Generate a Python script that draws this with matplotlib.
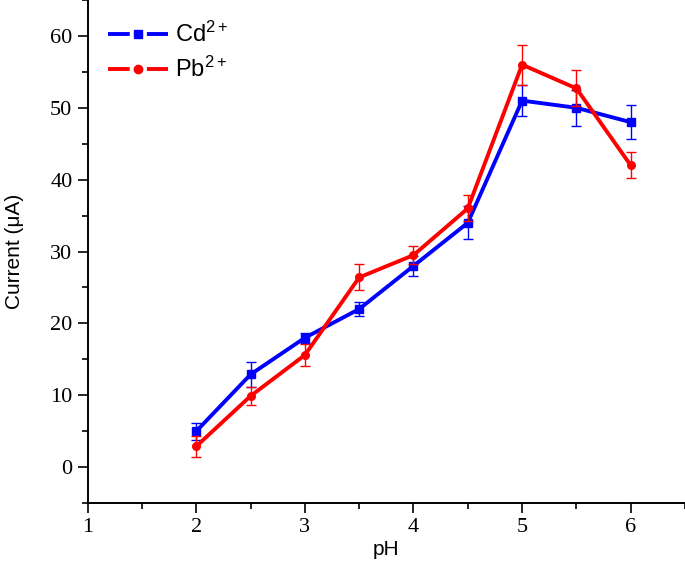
import matplotlib
matplotlib.use("Agg")
import matplotlib.pyplot as plt
from matplotlib.lines import Line2D
from matplotlib.ticker import MultipleLocator

plt.rcParams['mathtext.fontset'] = 'custom'
plt.rcParams['mathtext.rm'] = 'Liberation Sans'
plt.rcParams['mathtext.it'] = 'Liberation Sans:italic'

ph = [2, 2.5, 3, 3.5, 4, 4.5, 5, 5.5, 6]
cd = [5.0, 12.9, 18.0, 22.0, 28.0, 34.0, 51.0, 50.0, 48.0]
cd_err = [1.2, 1.7, 0.7, 1.0, 1.4, 2.3, 2.2, 2.5, 2.4]
pb = [2.9, 9.9, 15.6, 26.4, 29.5, 36.0, 56.0, 52.7, 42.0]
pb_err = [1.5, 1.2, 1.5, 1.8, 1.3, 1.8, 2.8, 2.5, 1.8]
series_labels = ['Cd$^{2+}$', 'Pb$^{2+}$']
x_label = 'pH'
y_label = 'Current (\u03bcA)'

fig = plt.figure(figsize=(6.85, 5.64), dpi=100)
ax = fig.add_axes([0.128, 0.108, 0.872, 0.892])

ax.errorbar(ph, cd, yerr=cd_err, color='#0000FF', lw=2.8, marker='s', ms=5.5,
            elinewidth=1.0, capsize=3.8, capthick=1.0, zorder=3)
ax.errorbar(ph, pb, yerr=pb_err, color='#FF0000', lw=2.8, marker='o', ms=5.5,
            elinewidth=1.0, capsize=3.8, capthick=1.0, zorder=4)

ax.set_xlim(1, 6.5)
ax.set_ylim(-5, 65)
ax.xaxis.set_major_locator(MultipleLocator(1))
ax.xaxis.set_minor_locator(MultipleLocator(0.5))
ax.yaxis.set_major_locator(MultipleLocator(10))
ax.yaxis.set_minor_locator(MultipleLocator(5))

for s in ['top', 'right']:
    ax.spines[s].set_visible(False)
for s in ['left', 'bottom']:
    ax.spines[s].set_linewidth(1.4)

ax.tick_params(which='major', direction='out', length=7.5, width=1.2,
               labelsize=16)
ax.tick_params(which='minor', direction='out', length=4.5, width=1.2)
for lab in ax.get_xticklabels() + ax.get_yticklabels():
    lab.set_fontfamily('Liberation Serif')

xticks = [1, 2, 3, 4, 5, 6]
ax.set_xticks(xticks)
ax.set_xticklabels([str(t) for t in xticks], fontfamily='Liberation Serif', fontsize=16)

ax.set_xlabel(x_label, fontfamily='Liberation Sans', fontsize=15, labelpad=2)
ax.set_ylabel(y_label, fontfamily='Liberation Sans', fontsize=15, labelpad=19)

dash = (0, (5.6, 4.4, 8.0, 1))
handles = [
    Line2D([], [], color='#0000FF', lw=2.8, marker='s', ms=6, linestyle=dash),
    Line2D([], [], color='#FF0000', lw=2.8, marker='o', ms=6, linestyle=dash),
]
leg = ax.legend(handles, series_labels, loc='upper left', frameon=False,
                prop={'family': 'Liberation Sans', 'size': 17},
                handlelength=2.55, handletextpad=0.3, labelspacing=0.4,
                borderaxespad=0.0, bbox_to_anchor=(0.018, 0.975))

fig.savefig('out.png', dpi=100)
